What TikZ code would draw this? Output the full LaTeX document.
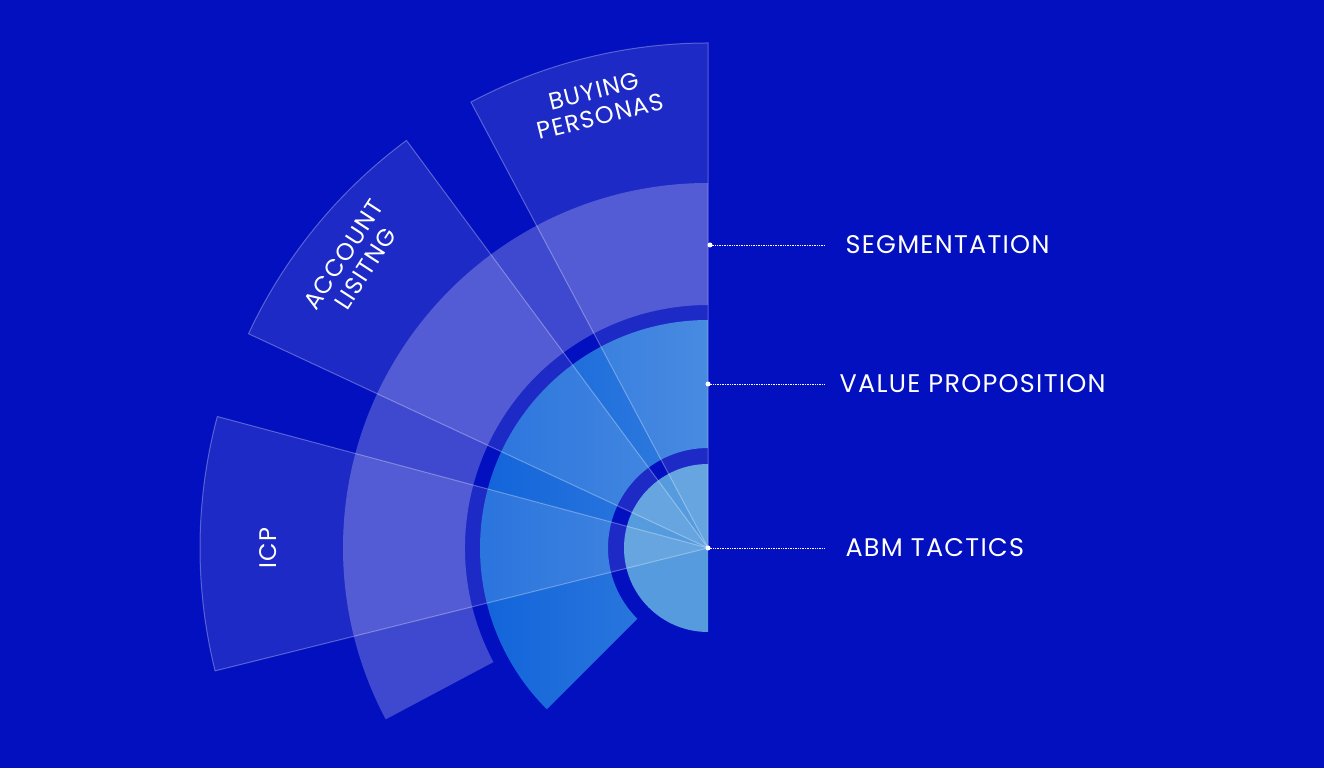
\documentclass[tikz,border=0pt]{standalone}
\usepackage{fontspec}
\setmainfont{Poppins}[LetterSpace=5]
\definecolor{bg}{RGB}{2,16,192}
\definecolor{vpl}{RGB}{18,100,218}
\definecolor{vpr}{RGB}{50,125,222}
\definecolor{abm}{RGB}{85,155,222}
\begin{document}
\begin{tikzpicture}[x=1pt,y=1pt,
  lbl/.style={text=white,font=\fontsize{25.5}{30}\selectfont,anchor=west},
  wlbl/.style={text=white,font=\fontsize{24}{26}\selectfont,align=center},
  wedgebox/.style={fill=white,fill opacity=0.11,draw=white,draw opacity=0.3,line width=1pt},
  leader/.style={white,densely dotted,line width=0.7pt}]
\fill[bg] (0,0) rectangle (1324,768);
\useasboundingbox (0,0) rectangle (1324,768);
\begin{scope}[shift={(708,220)}]
  \fill[white,opacity=0.24] (90:365) arc[start angle=90,end angle=208,radius=365] -- (208:243) arc[start angle=208,end angle=90,radius=243] -- cycle;
  \shade[left color=vpl,right color=vpr] (90:228) arc[start angle=90,end angle=225,radius=228] -- (225:100) arc[start angle=225,end angle=90,radius=100] -- cycle;
  \fill[abm] (90:84) arc[start angle=90,end angle=270,radius=84] -- cycle;
  \draw[wedgebox] (0,0) -- (165:508) arc[start angle=165,end angle=194,radius=508] -- cycle;
  \draw[wedgebox] (0,0) -- (126.5:507) arc[start angle=126.5,end angle=155,radius=507] -- cycle;
  \draw[wedgebox] (0,0) -- (90:505) arc[start angle=90,end angle=118,radius=505] -- cycle;
  \node[wlbl,rotate=90] (icp) at (180:440) {ICP};
  \node[wlbl,rotate=57] (acc) at (141:455) {ACCOUNT\\LISITNG};
  \node[wlbl,rotate=14] (buy) at (104:458) {BUYING\\PERSONAS};
  \coordinate (s) at (2,303);
  \coordinate (v) at (0,164);
  \coordinate (a) at (0,0);
  \fill[white] (s) circle (2.5) (v) circle (2.5) (a) circle (2.5);
  \node[lbl] (ts) at (134,303) {SEGMENTATION};
  \node[lbl] (tv) at (128,164) {VALUE PROPOSITION};
  \node[lbl] (ta) at (134,0) {ABM TACTICS};
  \draw[leader] (s) -- (117,303);
  \draw[leader] (v) -- (117,164);
  \draw[leader] (a) -- (117,0);
\end{scope}
\end{tikzpicture}
\end{document}
